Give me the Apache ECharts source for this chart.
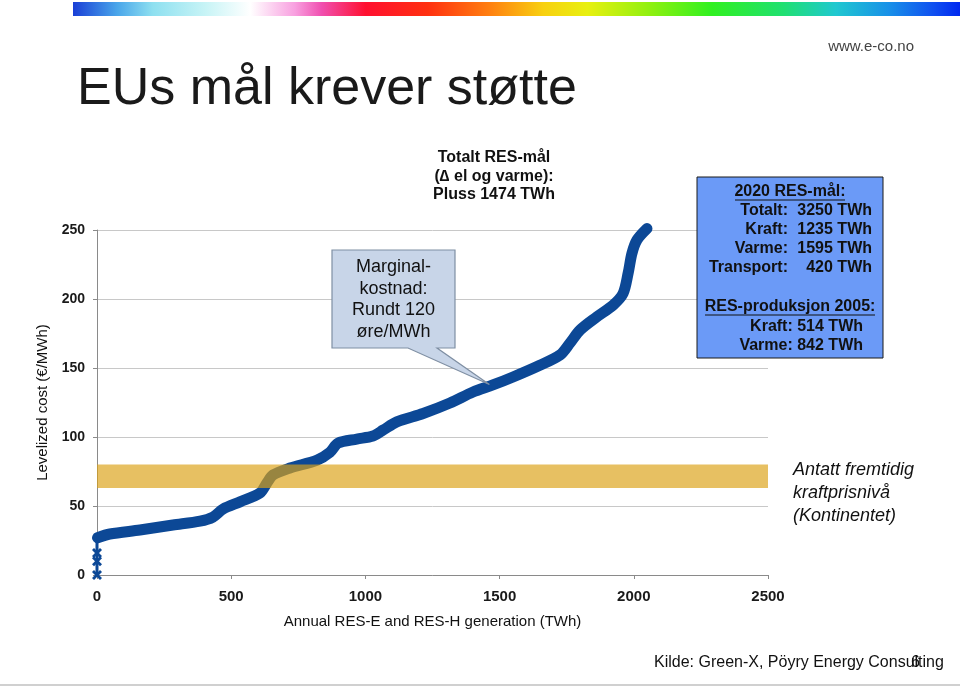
<!DOCTYPE html>
<html><head><meta charset="utf-8">
<script src="https://cdn.jsdelivr.net/npm/echarts@6/dist/echarts.min.js"></script>
<style>html,body{margin:0;padding:0;background:#fff}#c{width:960px;height:687px}</style>
</head><body><div id="c"></div>
<script>
// ---- data ----
const genTWh  = [2, 48, 160, 283, 384, 432, 470, 533, 607, 633, 656, 719, 820, 868, 898, 968, 1028, 1066, 1117, 1215, 1315, 1401, 1475, 1550, 1650, 1725, 1762, 1800, 1862, 1923, 1960, 1979, 1993, 2012, 2049];
const costEUR = [27, 29.7, 32.6, 36.2, 39, 42, 47.8, 53, 59.4, 66.7, 72.5, 77.5, 83.3, 89, 95.6, 98.5, 100.7, 105, 111, 117, 124.6, 132.6, 137.7, 143.5, 152, 159.4, 168, 177.5, 187, 195.6, 204, 218.8, 233, 242.8, 251];
const startTWh = [0, 0, 0, 0];
const startEUR = [0, 10, 16, 27];
const priceBand = [63, 80];
const targetTWh = 1474;
const targetTop = 252;
const yTicks = [0, 50, 100, 150, 200, 250];
const xTicks = [0, 500, 1000, 1500, 2000, 2500];

const FONT = "'Liberation Sans', Arial, sans-serif";
const BLUE = '#0c4896';
const crossPath = 'path://M0,2 L2,0 L5,3 L8,0 L10,2 L7,5 L10,8 L8,10 L5,7 L2,10 L0,8 L3,5 Z';

const chart = echarts.init(document.getElementById('c'), null, {renderer: 'canvas'});

const option = {
  animation: false,
  backgroundColor: '#ffffff',
  grid: {left: 97, right: 192, top: 230, bottom: 112, containLabel: false},
  xAxis: {
    type: 'value', min: xTicks[0], max: xTicks[xTicks.length - 1], interval: xTicks[1] - xTicks[0],
    name: 'Annual RES-E and RES-H generation (TWh)', nameLocation: 'middle', nameGap: 39,
    nameTextStyle: {fontFamily: FONT, fontSize: 15, color: '#111'},
    axisLine: {show: true, lineStyle: {color: '#8a8a8a', width: 1}},
    axisTick: {show: true, length: 4, lineStyle: {color: '#8a8a8a'}},
    axisLabel: {fontFamily: FONT, fontSize: 15, fontWeight: 'bold', color: '#1a1a1a', margin: 14,
      formatter: v => String(v)},
    splitLine: {show: false}
  },
  yAxis: {
    type: 'value', min: yTicks[0], max: yTicks[yTicks.length - 1], interval: yTicks[1] - yTicks[0],
    name: 'Levelized cost (€/MWh)', nameLocation: 'middle', nameGap: 44,
    nameTextStyle: {fontFamily: FONT, fontSize: 15, color: '#111'},
    axisLine: {show: true, lineStyle: {color: '#8a8a8a', width: 1}},
    axisTick: {show: true, length: 4, lineStyle: {color: '#8a8a8a'}},
    axisLabel: {fontFamily: FONT, fontSize: 14, fontWeight: 'bold', color: '#1a1a1a', margin: 12,
      formatter: v => String(v)},
    splitLine: {show: true, lineStyle: {color: '#c8c8c8', width: 1}}
  },
  series: [
    {
      type: 'line', z: 3, clip: false,
      data: startTWh.map((x, i) => ({value: [x, startEUR[i]], symbol: i < startTWh.length - 1 ? crossPath : 'none'})),
      symbolSize: 10, showAllSymbol: true,
      itemStyle: {color: BLUE},
      lineStyle: {color: BLUE, width: 3}
    },
    {
      type: 'line', z: 3, clip: false, smooth: 0.3,
      data: genTWh.map((x, i) => [x, costEUR[i]]),
      symbol: 'none',
      lineStyle: {color: BLUE, width: 11, cap: 'round', join: 'round'},
      markLine: {
        silent: true, symbol: 'none', z: 4,
        label: {show: false},
        lineStyle: {color: '#8c8c8c', width: 1.5, type: [3, 3]},
        data: [[{coord: [targetTWh, 0]}, {coord: [targetTWh, targetTop]}]]
      }
    },
    {
      type: 'line', z: 6, data: [],
      markArea: {
        silent: true, z: 6,
        itemStyle: {color: 'rgba(220,162,24,0.68)'},
        data: [[{coord: [xTicks[0], priceBand[0]]}, {coord: [xTicks[xTicks.length - 1], priceBand[1]]}]]
      }
    }
  ]
};
chart.setOption(option);

const tip = chart.convertToPixel({gridIndex: 0}, [1462, 138]);

function txt(x, y, text, o) {
  return {type: 'text', z: 100, x: x, y: y, style: Object.assign({
    text: text, fontFamily: FONT, fontSize: 16, fill: '#111', align: 'left', verticalAlign: 'middle'
  }, o || {})};
}
const boldR = {fontWeight: 'bold', align: 'right'};
const boldC = {fontWeight: 'bold', align: 'center'};

const g = [
  // rainbow bar
  {type: 'rect', z: 100, shape: {x: 73, y: 2, width: 887, height: 14},
   style: {fill: new echarts.graphic.LinearGradient(0, 0, 1, 0, [
     {offset: 0, color: '#1a3fd6'}, {offset: 0.05, color: '#4aa6ea'}, {offset: 0.09, color: '#8ee0f0'},
     {offset: 0.15, color: '#c8f4f6'}, {offset: 0.2, color: '#ffffff'}, {offset: 0.25, color: '#f8a0e0'},
     {offset: 0.28, color: '#f050b0'}, {offset: 0.33, color: '#ff1030'}, {offset: 0.40, color: '#ff3010'},
     {offset: 0.47, color: '#ff8010'}, {offset: 0.53, color: '#f8d010'}, {offset: 0.58, color: '#e8f010'},
     {offset: 0.65, color: '#90f010'}, {offset: 0.72, color: '#30f020'}, {offset: 0.80, color: '#20e070'},
     {offset: 0.86, color: '#20c8d0'}, {offset: 0.92, color: '#1890e8'}, {offset: 0.97, color: '#1050f0'},
     {offset: 1, color: '#0028f0'}])}},
  txt(914, 47, 'www.e-co.no', {fontSize: 15, fill: '#444', align: 'right'}),
  txt(77, 89.5, 'EUs mål krever støtte', {fontSize: 52, fill: '#1a1a1a'}),
  // centre annotation
  txt(494, 158, 'Totalt RES-mål', boldC),
  txt(494, 177, '(∆ el og varme):', boldC),
  txt(494, 195, 'Pluss 1474 TWh', boldC),
  // callout
  {type: 'polygon', z: 100, shape: {points: [[332, 250], [455, 250], [455, 348], [437, 348], tip, [408, 348], [332, 348]]},
   style: {fill: '#c8d5e8', stroke: '#7f8fa3', lineWidth: 1.2}},
  txt(393.5, 267, 'Marginal-', {fontSize: 18, align: 'center'}),
  txt(393.5, 288.7, 'kostnad:', {fontSize: 18, align: 'center'}),
  txt(393.5, 310.4, 'Rundt 120', {fontSize: 18, align: 'center'}),
  txt(393.5, 332, 'øre/MWh', {fontSize: 18, align: 'center'}),
  // right box
  {type: 'rect', z: 100, shape: {x: 697, y: 177, width: 186, height: 181},
   style: {fill: '#6b9af7', stroke: '#1a1a1a', lineWidth: 1}},
  txt(790, 191.7, '2020 RES-mål:', boldC),
  {type: 'line', z: 101, shape: {x1: 735, y1: 200, x2: 845, y2: 200}, style: {stroke: '#111', lineWidth: 1.2}},
  txt(788, 211, 'Totalt:', boldR), txt(872, 211, '3250 TWh', boldR),
  txt(788, 230, 'Kraft:', boldR), txt(872, 230, '1235 TWh', boldR),
  txt(788, 249, 'Varme:', boldR), txt(872, 249, '1595 TWh', boldR),
  txt(788, 268, 'Transport:', boldR), txt(872, 268, '420 TWh', boldR),
  txt(790, 306.7, 'RES-produksjon 2005:', boldC),
  {type: 'line', z: 101, shape: {x1: 705, y1: 315, x2: 875, y2: 315}, style: {stroke: '#111', lineWidth: 1.2}},
  txt(863, 326.5, 'Kraft: 514 TWh', boldR),
  txt(863, 345.5, 'Varme: 842 TWh', boldR),
  // price band note
  txt(793, 470, 'Antatt fremtidig', {fontSize: 18, fontStyle: 'italic'}),
  txt(793, 493, 'kraftprisnivå', {fontSize: 18, fontStyle: 'italic'}),
  txt(793, 515.5, '(Kontinentet)', {fontSize: 18, fontStyle: 'italic'}),
  // source
  txt(654, 663, 'Kilde: Green-X, Pöyry Energy Consulting', {fontSize: 16}),
  txt(911, 663, '6', {fontSize: 16}),
  {type: 'rect', z: 100, shape: {x: 0, y: 684, width: 960, height: 2}, style: {fill: '#d0d0d0'}}
];
chart.setOption({graphic: {elements: g}});
</script>
</body></html>
